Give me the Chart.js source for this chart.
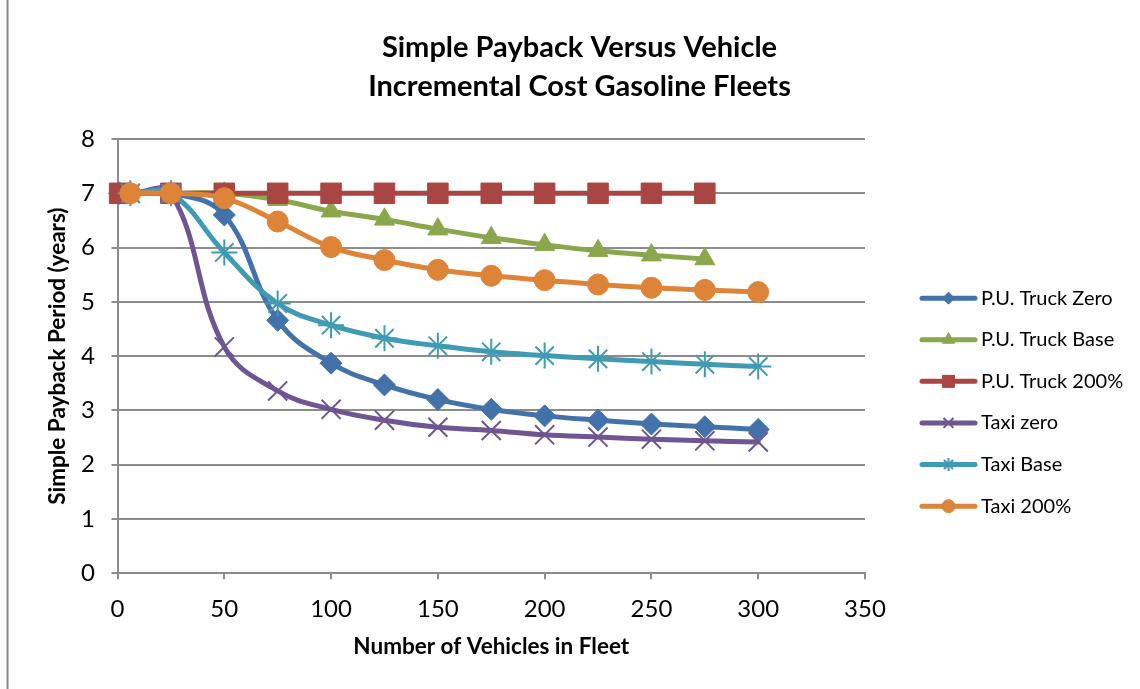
<!DOCTYPE html>
<html><head><meta charset="utf-8">
<script src="https://cdn.jsdelivr.net/npm/chart.js@4.4.0/dist/chart.umd.min.js"></script>
<style>html,body{margin:0;padding:0;background:#fff;overflow:hidden}canvas{display:block}</style>
</head><body>
<canvas id="c" width="1140" height="689"></canvas>
<script>
const chartTitle = ['Simple Payback Versus Vehicle', 'Incremental Cost Gasoline Fleets'];
const xAxisTitle = 'Number of Vehicles in Fleet';
const yAxisTitle = 'Simple Payback Period (years)';
const seriesNames = ['P.U. Truck Zero', 'P.U. Truck Base', 'P.U. Truck 200%', 'Taxi zero', 'Taxi Base', 'Taxi 200%'];
const xTicks = [0, 50, 100, 150, 200, 250, 300, 350];
const yTicks = [0, 1, 2, 3, 4, 5, 6, 7, 8];

const truckFleetSizes = [1, 25, 50, 75, 100, 125, 150, 175, 200, 225, 250, 275, 300];
const taxiFleetSizes  = [6, 25, 50, 75, 100, 125, 150, 175, 200, 225, 250, 275, 300];

const truckZero = [7, 7, 6.60, 4.66, 3.87, 3.47, 3.20, 3.02, 2.90, 2.82, 2.75, 2.70, 2.65];
const truckBase = [7, 7, 7, 6.88, 6.67, 6.52, 6.34, 6.18, 6.05, 5.94, 5.86, 5.79];
const truck200  = [7, 7, 7, 7, 7, 7, 7, 7, 7, 7, 7, 7];
const taxiZero  = [7, 7, 4.17, 3.36, 3.02, 2.82, 2.69, 2.63, 2.55, 2.51, 2.47, 2.44, 2.42];
const taxiBase  = [7, 7, 5.91, 4.97, 4.57, 4.33, 4.19, 4.08, 4.01, 3.95, 3.90, 3.85, 3.81];
const taxi200   = [7, 7, 6.91, 6.48, 6.01, 5.77, 5.59, 5.48, 5.40, 5.32, 5.26, 5.22, 5.18];

const seriesValues = [truckZero, truckBase, truck200, taxiZero, taxiBase, taxi200];
const seriesX = [truckFleetSizes, truckFleetSizes, truckFleetSizes, taxiFleetSizes, taxiFleetSizes, taxiFleetSizes];
const colors = ['#4372AA', '#8AA84B', '#A94542', '#6F5592', '#3F9BB3', '#DE8438'];
const styles = ['rectRot', 'triangle', 'rect', 'crossRot', 'star', 'circle'];
const radii = [11, 11.5, 14.5, 13.5, 13, 10.5];
const legendRadii = [6, 7, 8.5, 7, 6.5, 6.5];

const FONT = 'Lato';

const datasets = seriesNames.map((name, i) => ({
  label: name,
  data: seriesValues[i].map((v, j) => ({ x: seriesX[i][j], y: v })),
  borderColor: colors[i],
  backgroundColor: colors[i],
  pointBackgroundColor: colors[i],
  pointBorderColor: colors[i],
  borderWidth: 5,
  pointStyle: styles[i],
  pointRadius: radii[i],
  pointHoverRadius: radii[i],
  pointBorderWidth: (styles[i] === 'crossRot' || styles[i] === 'star') ? 2 : 1,
  tension: 0.4,
  borderCapStyle: 'round',
  borderJoinStyle: 'round',
  fill: false,
  clip: false,
  order: seriesNames.length - i
}));

const bgPlugin = {
  id: 'bgFrame',
  beforeDraw(chart) {
    const ctx = chart.ctx;
    ctx.save();
    ctx.fillStyle = '#ffffff';
    ctx.fillRect(0, 0, chart.width, chart.height);
    ctx.strokeStyle = '#898989';
    ctx.lineWidth = 2;
    ctx.beginPath();
    ctx.moveTo(7.5, 0);
    ctx.lineTo(7.5, chart.height);
    ctx.stroke();
    ctx.restore();
  }
};

const legendPlugin = {
  id: 'sideLegend',
  afterDraw(chart) {
    const ctx = chart.ctx;
    const area = chart.chartArea;
    const x0 = area.right + 57;
    const lineLen = 53;
    const spacing = 41.6;
    const n = chart.data.datasets.length;
    const midY = (area.top + area.bottom) / 2 + 46;
    ctx.save();
    chart.data.datasets.forEach((ds, i) => {
      const y = midY + (i - (n - 1) / 2) * spacing;
      ctx.strokeStyle = ds.borderColor;
      ctx.lineWidth = 5;
      ctx.lineCap = 'round';
      ctx.beginPath();
      ctx.moveTo(x0, y);
      ctx.lineTo(x0 + lineLen, y);
      ctx.stroke();
      ctx.fillStyle = ds.borderColor;
      ctx.strokeStyle = ds.borderColor;
      ctx.lineWidth = (ds.pointStyle === 'crossRot' || ds.pointStyle === 'star') ? 2 : 1;
      ctx.lineCap = 'butt';
      Chart.helpers.drawPoint(ctx, { pointStyle: ds.pointStyle, radius: legendRadii[i], borderWidth: ctx.lineWidth, rotation: 0 }, x0 + lineLen / 2, y);
      ctx.fillStyle = '#000000';
      ctx.font = '20px ' + FONT;
      ctx.textBaseline = 'middle';
      ctx.textAlign = 'left';
      ctx.fillText(ds.label, x0 + lineLen + 6, y);
    });
    ctx.restore();
  }
};

new Chart(document.getElementById('c'), {
  type: 'line',
  data: { datasets },
  options: {
    responsive: false,
    animation: false,
    devicePixelRatio: 1,
    layout: { padding: { left: 19, right: 0, top: 0, bottom: 0 } },
    plugins: {
      legend: { display: false },
      tooltip: { enabled: false },
      title: {
        display: true,
        text: chartTitle,
        color: '#000000',
        font: { family: FONT, size: 29, weight: 'bold', lineHeight: 1.345 },
        padding: { top: 28.5, bottom: 32.5 }
      }
    },
    scales: {
      x: {
        type: 'linear',
        min: xTicks[0],
        max: xTicks[xTicks.length - 1],
        afterBuildTicks: (s) => { s.ticks = xTicks.map(v => ({ value: v })); },
        ticks: { color: '#000000', font: { family: FONT, size: 24 }, padding: 15.3, maxRotation: 0 },
        grid: { drawOnChartArea: false, drawTicks: true, tickLength: 6, color: '#8c8c8c', lineWidth: 2 },
        border: { color: '#8c8c8c', width: 2 },
        title: { display: true, text: xAxisTitle, color: '#000000', font: { family: FONT, size: 22.5, weight: 'bold' }, padding: { top: 4, bottom: 28.5 } },
        afterFit: (s) => { s.height = 115.7; }
      },
      y: {
        type: 'linear',
        min: yTicks[0],
        max: yTicks[yTicks.length - 1],
        afterBuildTicks: (s) => { s.ticks = yTicks.map(v => ({ value: v })); },
        ticks: { color: '#000000', font: { family: FONT, size: 24 }, padding: 16.5 },
        grid: { color: '#8c8c8c', lineWidth: 2, tickLength: 6, drawTicks: true },
        border: { color: '#8c8c8c', width: 2 },
        title: { display: true, text: yAxisTitle, color: '#000000', font: { family: FONT, size: 22.5, weight: 'bold' }, padding: { top: 25.5, bottom: 4 } },
        afterFit: (s) => { s.width = 98.5; }
      },
      legendSpace: {
        type: 'linear',
        position: 'right',
        axis: 'y',
        display: true,
        ticks: { display: false },
        grid: { display: false, drawTicks: false },
        border: { display: false },
        afterFit: (s) => { s.width = 275; }
      }
    }
  },
  plugins: [bgPlugin, legendPlugin]
});
</script>
</body></html>
